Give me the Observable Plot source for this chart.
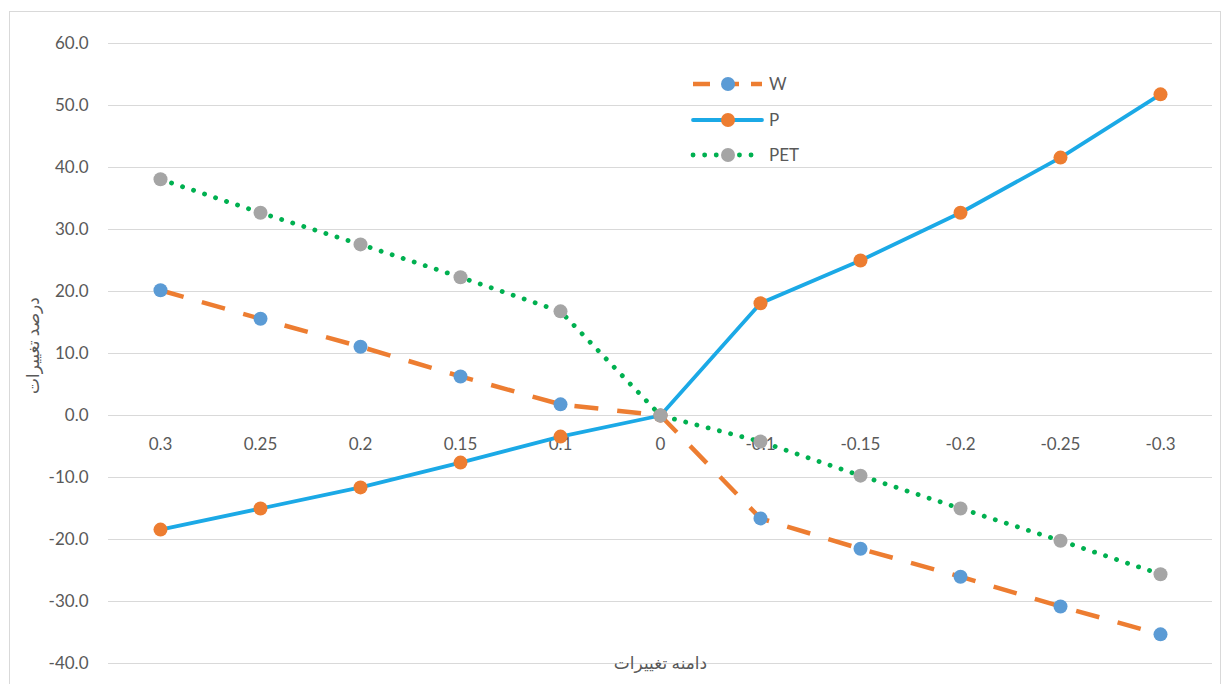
<!DOCTYPE html>
<html>
<head>
<meta charset="utf-8">
<script src="https://cdn.jsdelivr.net/npm/d3@7"></script>
<script src="https://cdn.jsdelivr.net/npm/@observablehq/plot@0.6"></script>
<style>
  html, body { margin: 0; padding: 0; background: #fff; }
  #wrap { position: relative; width: 1224px; height: 684px; overflow: hidden; }
  #frame { position: absolute; left: 9px; top: 11px; width: 1212px; height: 690px; border: 1px solid #d9d9d9; box-sizing: border-box; }
  #chart { position: absolute; left: 0; top: 0; }
  #legend { position: absolute; left: 0; top: 0; pointer-events: none; }
  #legend text { font-family: Lato, "DejaVu Sans", sans-serif; font-size: 17px; fill: #595959; }
</style>
</head>
<body>
<div id="wrap">
  <div id="frame"></div>
  <div id="chart"></div>
  <svg id="legend" width="1224" height="684"></svg>
</div>
<script>
const categories = ["0.3", "0.25", "0.2", "0.15", "0.1", "0", "-0.1", "-0.15", "-0.2", "-0.25", "-0.3"];
const wValues   = [20.2, 15.6, 11.1, 6.3, 1.8, 0, -16.6, -21.5, -26.0, -30.8, -35.3];
const pValues   = [-18.4, -15.0, -11.6, -7.6, -3.4, 0, 18.1, 25.0, 32.7, 41.6, 51.8];
const petValues = [38.1, 32.7, 27.6, 22.3, 16.8, 0, -4.2, -9.7, -15.0, -20.2, -25.6];
const yTicks = [-40, -30, -20, -10, 0, 10, 20, 30, 40, 50, 60];
const yTitle = "درصد تغییرات";
const xTitle = "دامنه تغییرات";

const series = [
  {name: "W",   values: wValues,   line: "#ED7D31", marker: "#5B9BD5", dash: "24,19", cap: "butt", width: 4.5},
  {name: "P",   values: pValues,   line: "#1BA9E6", marker: "#ED7D31", dash: null,    cap: "round", width: 3.8},
  {name: "PET", values: petValues, line: "#00B050", marker: "#A5A5A5", dash: "0.1,11.5", cap: "round", width: 4.8}
];

const rows = s => categories.map((c, i) => ({x: c, y: s.values[i]}));

const marks = [
  Plot.gridY(yTicks, {stroke: "#d9d9d9", strokeOpacity: 1, strokeWidth: 1}),
  Plot.axisY(yTicks, {tickSize: 0, tickPadding: 20, tickFormat: d => d.toFixed(1), fontSize: 17, fill: "#595959", label: null}),
  Plot.text(categories, {x: d => d, y: () => 0, dy: 29, fontSize: 17, fill: "#595959"}),
  Plot.text([yTitle], {frameAnchor: "left", textAnchor: "middle", lineAnchor: "middle", dx: -75, dy: -8, rotate: -90, fontSize: 17, fill: "#595959"}),
  Plot.text([xTitle], {frameAnchor: "bottom", lineAnchor: "middle", dy: 0, fontSize: 17, fill: "#595959"})
];
for (const s of series) {
  marks.push(Plot.line(rows(s), {x: "x", y: "y", stroke: s.line, strokeWidth: s.width, strokeDasharray: s.dash, strokeLinecap: s.cap, strokeLinejoin: "round"}));
  marks.push(Plot.dot(rows(s), {x: "x", y: "y", r: 7, fill: s.marker, stroke: "none"}));
}

const chart = Plot.plot({
  width: 1224,
  height: 684,
  marginLeft: 108,
  marginRight: 12,
  marginTop: 43,
  marginBottom: 21,
  style: {fontFamily: "Lato, 'DejaVu Sans', sans-serif", background: "transparent"},
  x: {type: "point", domain: categories, padding: 0.5, axis: null},
  y: {domain: [-40, 60], axis: null},
  marks
});
document.getElementById("chart").appendChild(chart);

// Legend (inside plot area, top-center)
const lg = d3.select("#legend");
const legendRows = [84, 120, 155];
series.forEach((s, i) => {
  const y = legendRows[i];
  lg.append("line").attr("x1", 693).attr("x2", 762).attr("y1", y).attr("y2", y)
    .attr("stroke", s.line).attr("stroke-width", s.width)
    .attr("stroke-dasharray", s.name === "W" ? "17,12" : s.dash)
    .attr("stroke-linecap", s.cap);
  lg.append("circle").attr("cx", 728).attr("cy", y).attr("r", 7).attr("fill", s.marker);
  lg.append("text").attr("x", 769).attr("y", y).attr("dy", "0.35em").text(s.name);
});
</script>
</body>
</html>
